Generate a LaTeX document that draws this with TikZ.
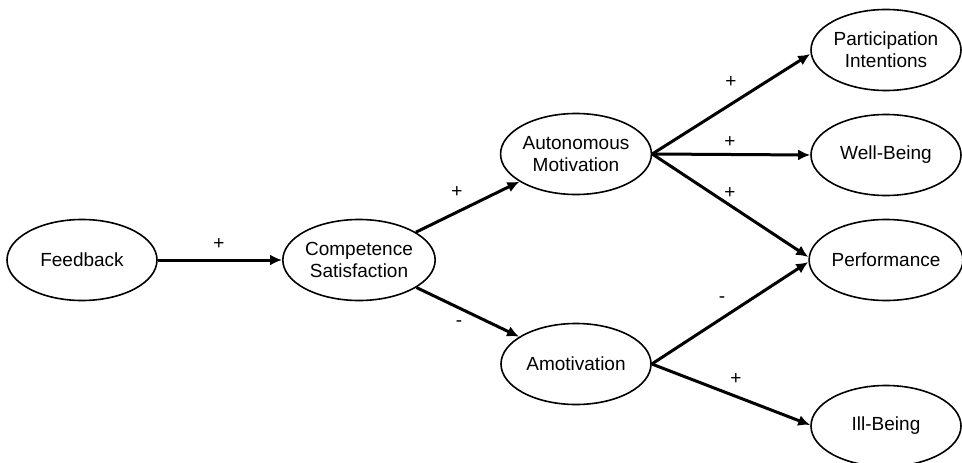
\documentclass[tikz,border=0pt]{standalone}
\usepackage{fontspec}
\setmainfont{Liberation Sans}
\usetikzlibrary{shapes.geometric,arrows.meta}
\begin{document}
\begin{tikzpicture}[x=1pt,y=-1pt,
  var/.style={ellipse,draw=black,line width=1.6pt,minimum width=150pt,minimum height=81pt,
    inner sep=0pt,align=center,font=\fontsize{19}{22}\selectfont,text=black},
  path/.style={line width=3pt,-{Latex[length=12pt,width=11pt]}},
  sign/.style={font=\fontsize{19}{20}\selectfont,inner sep=0pt}]
\useasboundingbox (0,0) rectangle (962,463);
\node[var] (fb) at (82,260) {Feedback};
\node[var] (cs) at (359,260) {Competence\\Satisfaction};
\node[var] (am) at (576,154) {Autonomous\\Motivation};
\node[var] (amo) at (576,364) {Amotivation};
\node[var] (pi) at (886,50) {Participation\\Intentions};
\node[var] (wb) at (886,155) {Well-Being};
\node[var] (pf) at (886,260) {Performance};
\node[var] (ib) at (886,426) {Ill-Being};

\draw[path] (fb) -- (cs);
\draw[path] (cs) -- (am);
\draw[path] (cs) -- (amo);
\draw[path] (am.east) -- ([yshift=-4pt]pi.west);
\draw[path] (am.east) -- (wb.west);
\draw[path] (am.east) -- ([yshift=3pt]pf.west);
\draw[path] (amo.east) -- ([yshift=-2pt]pf.west);
\draw[path] (amo.east) -- ([yshift=1pt]ib.west);

\node[sign] (s1) at (219,244) {+};
\node[sign] (s2) at (457,192) {+};
\node[sign] (s3) at (459,324) {-};
\node[sign] (s4) at (731,82) {+};
\node[sign] (s5) at (730,142) {+};
\node[sign] (s6) at (730,193) {+};
\node[sign] (s7) at (722,300) {-};
\node[sign] (s8) at (736,379) {+};
\end{tikzpicture}
\end{document}
